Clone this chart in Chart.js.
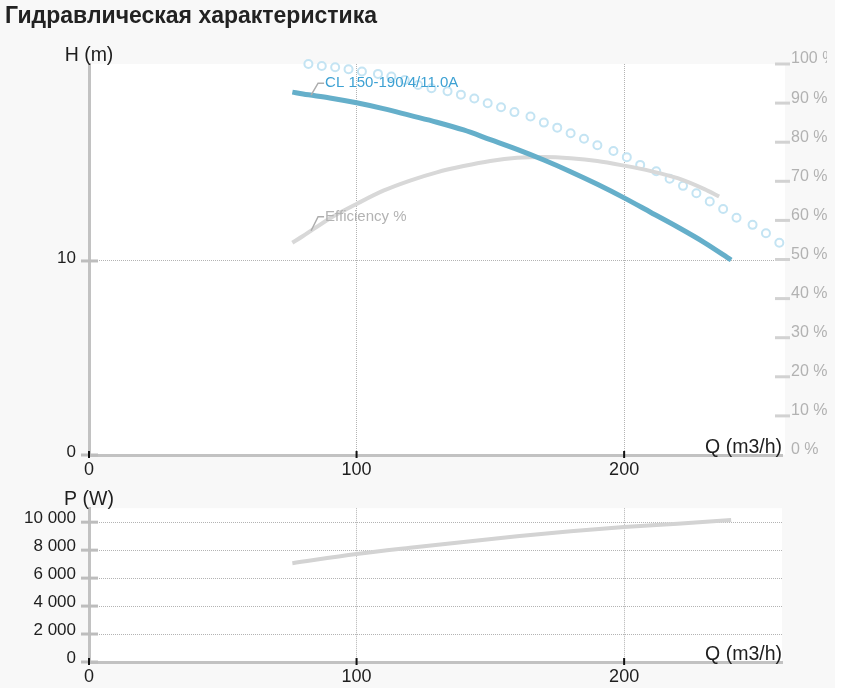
<!DOCTYPE html>
<html lang="ru">
<head>
<meta charset="utf-8">
<title>Гидравлическая характеристика</title>
<script src="https://cdn.jsdelivr.net/npm/chart.js@4.4.1/dist/chart.umd.min.js"></script>
<style>
  html, body { margin: 0; padding: 0; background: #ffffff; }
  #wrap { position: relative; width: 835px; height: 688px; background: #f8f8f8; overflow: hidden; font-family: "Liberation Sans", Arial, sans-serif; }
  #headChart { position: absolute; left: 0; top: 0; }
  #powerChart { position: absolute; left: 0; top: 485px; }
  h3 { position: absolute; left: 5px; top: 4px; margin: 0; font-size: 23px; line-height: 23px; font-weight: bold; color: #222; z-index: 2; }
</style>
</head>
<body>
<div id="wrap">
  <canvas id="headChart" width="827" height="485"></canvas>
  <canvas id="powerChart" width="827" height="203"></canvas>
  <h3>Гидравлическая характеристика</h3>
</div>
<script>
// axis ticks
const qTicks = [0, 100, 200];
const hTicks = [0, 10];
const effTicks = [0, 10, 20, 30, 40, 50, 60, 70, 80, 90, 100];
const pTicks = [0, 2000, 4000, 6000, 8000, 10000];

// pump head curve H(Q), m
const qHead = [76, 80, 90, 100, 110, 120, 130, 140, 150, 160, 170, 180, 190, 200, 210, 220, 230, 240];
const head = [18.7, 18.6, 18.4, 18.15, 17.85, 17.5, 17.15, 16.75, 16.25, 15.75, 15.2, 14.6, 13.95, 13.25, 12.5, 11.75, 10.95, 10.05];

// efficiency, %
const qEff = [76, 80, 90, 100, 110, 120, 130, 140, 150, 160, 170, 180, 190, 200, 210, 220, 230, 235.5];
const eff = [54.3, 56, 60.5, 64.2, 67.6, 70.2, 72.3, 73.9, 75.2, 76, 76.2, 75.9, 75.2, 74, 72.6, 70.8, 68, 66.1];

// dotted curve (circles), m
const qDots = [82, 87, 92, 97, 102, 108, 113, 118, 123, 128, 134, 139, 144, 149, 154, 159, 165, 170, 175, 180, 185, 190, 196, 201, 206, 212, 217, 222, 227, 232, 237, 242, 248, 253, 258];
const dots = [20.15, 20.05, 19.98, 19.88, 19.76, 19.64, 19.5, 19.33, 19.07, 18.9, 18.75, 18.57, 18.37, 18.13, 17.92, 17.67, 17.44, 17.13, 16.87, 16.58, 16.3, 15.96, 15.67, 15.35, 14.95, 14.62, 14.24, 13.87, 13.49, 13.06, 12.68, 12.23, 11.86, 11.43, 10.94];

// power P(Q), W
const qPower = [76, 100, 120, 140, 160, 180, 200, 220, 240];
const power = [7070, 7720, 8170, 8590, 8990, 9350, 9650, 9880, 10160];

const qMax = 259;
const hMax = 20.15;
const pMax = 11000;
const labelQ = 83;

const font = '"Liberation Sans", Arial, sans-serif';
Chart.defaults.font.family = font;
Chart.defaults.font.size = 17;
Chart.defaults.color = '#1e1e1e';

const clear = 'rgba(0,0,0,0)';
const gridColor = '#b3b3b3';
const axisColor = '#c2c2c2';

const fmt = v => String(v).replace(/\B(?=(\d{3})+(?!\d))/g, ' ');
const pts = (xs, ys) => xs.map((q, i) => ({ x: q, y: ys[i] }));
const setTicks = list => axis => { axis.ticks = list.map(v => ({ value: v })); };

function valueAt(xs, ys, q) {
    for (let i = 1; i < xs.length; i++) {
        if (q <= xs[i]) {
            const t = (q - xs[i - 1]) / (xs[i] - xs[i - 1]);
            return ys[i - 1] + t * (ys[i] - ys[i - 1]);
        }
    }
    return ys[ys.length - 1];
}

// white plot area
const plotBg = {
    id: 'plotBg',
    beforeDraw(chart, args, opts) {
        const { ctx, chartArea: a } = chart;
        ctx.save();
        ctx.fillStyle = '#ffffff';
        ctx.fillRect(a.left, a.top, a.right - a.left + (opts.extra || 0), a.bottom - a.top);
        ctx.restore();
    }
};

// tick marks and axis titles
const axisMarks = {
    id: 'axisMarks',
    afterDraw(chart, args, opts) {
        const { ctx, chartArea: a, scales } = chart;
        const seg = (x1, y1, x2, y2) => { ctx.beginPath(); ctx.moveTo(x1, y1); ctx.lineTo(x2, y2); ctx.stroke(); };
        ctx.save();
        ctx.lineWidth = 3;
        ctx.strokeStyle = '#bdbdbd';
        scales.y.ticks.forEach(t => {
            const y = scales.y.getPixelForValue(t.value);
            seg(a.left - 8, y, a.left + 9, y);
        });
        if (scales.y1) {
            ctx.strokeStyle = '#d2d2d2';
            scales.y1.ticks.forEach(t => {
                if (t.value === 0) return;
                const y = scales.y1.getPixelForValue(t.value);
                seg(a.right - 7, y, a.right + 8, y);
            });
        }
        ctx.lineWidth = 2;
        ctx.strokeStyle = '#111111';
        scales.x.ticks.forEach(t => {
            const x = scales.x.getPixelForValue(t.value);
            seg(x, a.bottom - 4, x, a.bottom + 3);
        });
        ctx.font = '19.5px ' + font;
        ctx.fillStyle = '#1e1e1e';
        ctx.textBaseline = 'alphabetic';
        ctx.textAlign = 'center';
        ctx.fillText(opts.yTitle, a.left, a.top - 3.5);
        ctx.textAlign = 'right';
        ctx.fillText(opts.xTitle, a.right, a.bottom - 2.5);
        ctx.restore();
    }
};

// labels with leader lines near the start of the curves
const curveLabels = {
    id: 'curveLabels',
    afterDatasetsDraw(chart) {
        const { ctx, scales: { x, y, y1 } } = chart;
        const items = [
            { text: 'CL 150-190/4/11.0A', color: '#3da1d3', dy: 12, px: x.getPixelForValue(labelQ), py: y.getPixelForValue(valueAt(qHead, head, labelQ)) },
            { text: 'Efficiency %', color: '#b3b3b3', dy: 14, px: x.getPixelForValue(labelQ), py: y1.getPixelForValue(valueAt(qEff, eff, labelQ)) }
        ];
        ctx.save();
        ctx.font = '15px ' + font;
        ctx.textBaseline = 'middle';
        ctx.textAlign = 'left';
        items.forEach(it => {
            ctx.strokeStyle = '#adadad';
            ctx.lineWidth = 1.5;
            ctx.beginPath();
            ctx.moveTo(it.px, it.py);
            ctx.lineTo(it.px + 7, it.py - it.dy);
            ctx.lineTo(it.px + 13, it.py - it.dy);
            ctx.stroke();
            ctx.fillStyle = it.color;
            ctx.fillText(it.text, it.px + 14, it.py - it.dy);
        });
        ctx.restore();
    }
};

const xScale = height => ({
    type: 'linear',
    min: 0,
    max: qMax,
    afterBuildTicks: setTicks(qTicks),
    afterFit: s => { s.height = height; },
    grid: { color: c => (c.tick && c.tick.value === 0) ? clear : gridColor, lineWidth: 1, drawTicks: false },
    border: { color: axisColor, width: 3, dash: [1, 1] },
    ticks: { padding: 4, maxRotation: 0, font: { size: 18 } }
});

new Chart(document.getElementById('headChart'), {
    type: 'line',
    data: {
        datasets: [
            {
                label: 'CL 150-190/4/11.0A',
                data: pts(qHead, head),
                yAxisID: 'y',
                borderColor: '#65afca',
                borderWidth: 5,
                pointRadius: 0,
                cubicInterpolationMode: 'monotone'
            },
            {
                label: 'Efficiency %',
                data: pts(qEff, eff),
                yAxisID: 'y1',
                borderColor: '#d8d8d8',
                borderWidth: 4,
                pointRadius: 0,
                cubicInterpolationMode: 'monotone'
            },
            {
                label: 'dots',
                data: pts(qDots, dots),
                yAxisID: 'y',
                showLine: false,
                pointRadius: 4,
                pointBorderWidth: 2,
                pointBorderColor: '#c4e4f3',
                pointBackgroundColor: '#ffffff',
                clip: 8
            }
        ]
    },
    options: {
        responsive: false,
        animation: false,
        layout: { padding: { top: 64, left: 0, right: 0, bottom: 0 } },
        plugins: {
            legend: { display: false },
            tooltip: { enabled: false },
            plotBg: { extra: 3 },
            axisMarks: { yTitle: 'H (m)', xTitle: 'Q (m3/h)' }
        },
        scales: {
            x: xScale(30),
            y: {
                position: 'left',
                min: 0,
                max: hMax,
                afterBuildTicks: setTicks(hTicks),
                afterFit: s => { s.width = 89; },
                grid: { color: c => (c.tick && c.tick.value === 10) ? gridColor : clear, lineWidth: 1, drawTicks: false },
                border: { color: axisColor, width: 3, dash: [1, 1] },
                ticks: { padding: 13, labelOffset: -3 }
            },
            y1: {
                position: 'right',
                min: 0,
                max: 100,
                afterBuildTicks: setTicks(effTicks),
                afterFit: s => { s.width = 45; },
                grid: { drawOnChartArea: false, drawTicks: false },
                border: { display: false },
                ticks: { padding: 9, labelOffset: -5, color: '#b2b2b2', font: { size: 16 }, callback: v => v + ' %' }
            }
        }
    },
    plugins: [plotBg, curveLabels, axisMarks]
});

new Chart(document.getElementById('powerChart'), {
    type: 'line',
    data: {
        datasets: [{
            label: 'P',
            data: pts(qPower, power),
            borderColor: '#d3d3d3',
            borderWidth: 4,
            pointRadius: 0,
            cubicInterpolationMode: 'monotone'
        }]
    },
    options: {
        responsive: false,
        animation: false,
        layout: { padding: { top: 20, left: 0, right: 45, bottom: 0 } },
        plugins: {
            legend: { display: false },
            tooltip: { enabled: false },
            plotBg: { extra: 0 },
            axisMarks: { yTitle: 'P (W)', xTitle: 'Q (m3/h)' }
        },
        scales: {
            x: xScale(26),
            y: {
                position: 'left',
                min: 0,
                max: pMax,
                afterBuildTicks: setTicks(pTicks),
                afterFit: s => { s.width = 89; },
                grid: { color: c => (c.tick && c.tick.value === 0) ? clear : gridColor, lineWidth: 1, drawTicks: false },
                border: { color: axisColor, width: 3, dash: [1, 1] },
                ticks: { padding: 13, labelOffset: -4, callback: v => fmt(v) }
            }
        }
    },
    plugins: [plotBg, axisMarks]
});
</script>
</body>
</html>
